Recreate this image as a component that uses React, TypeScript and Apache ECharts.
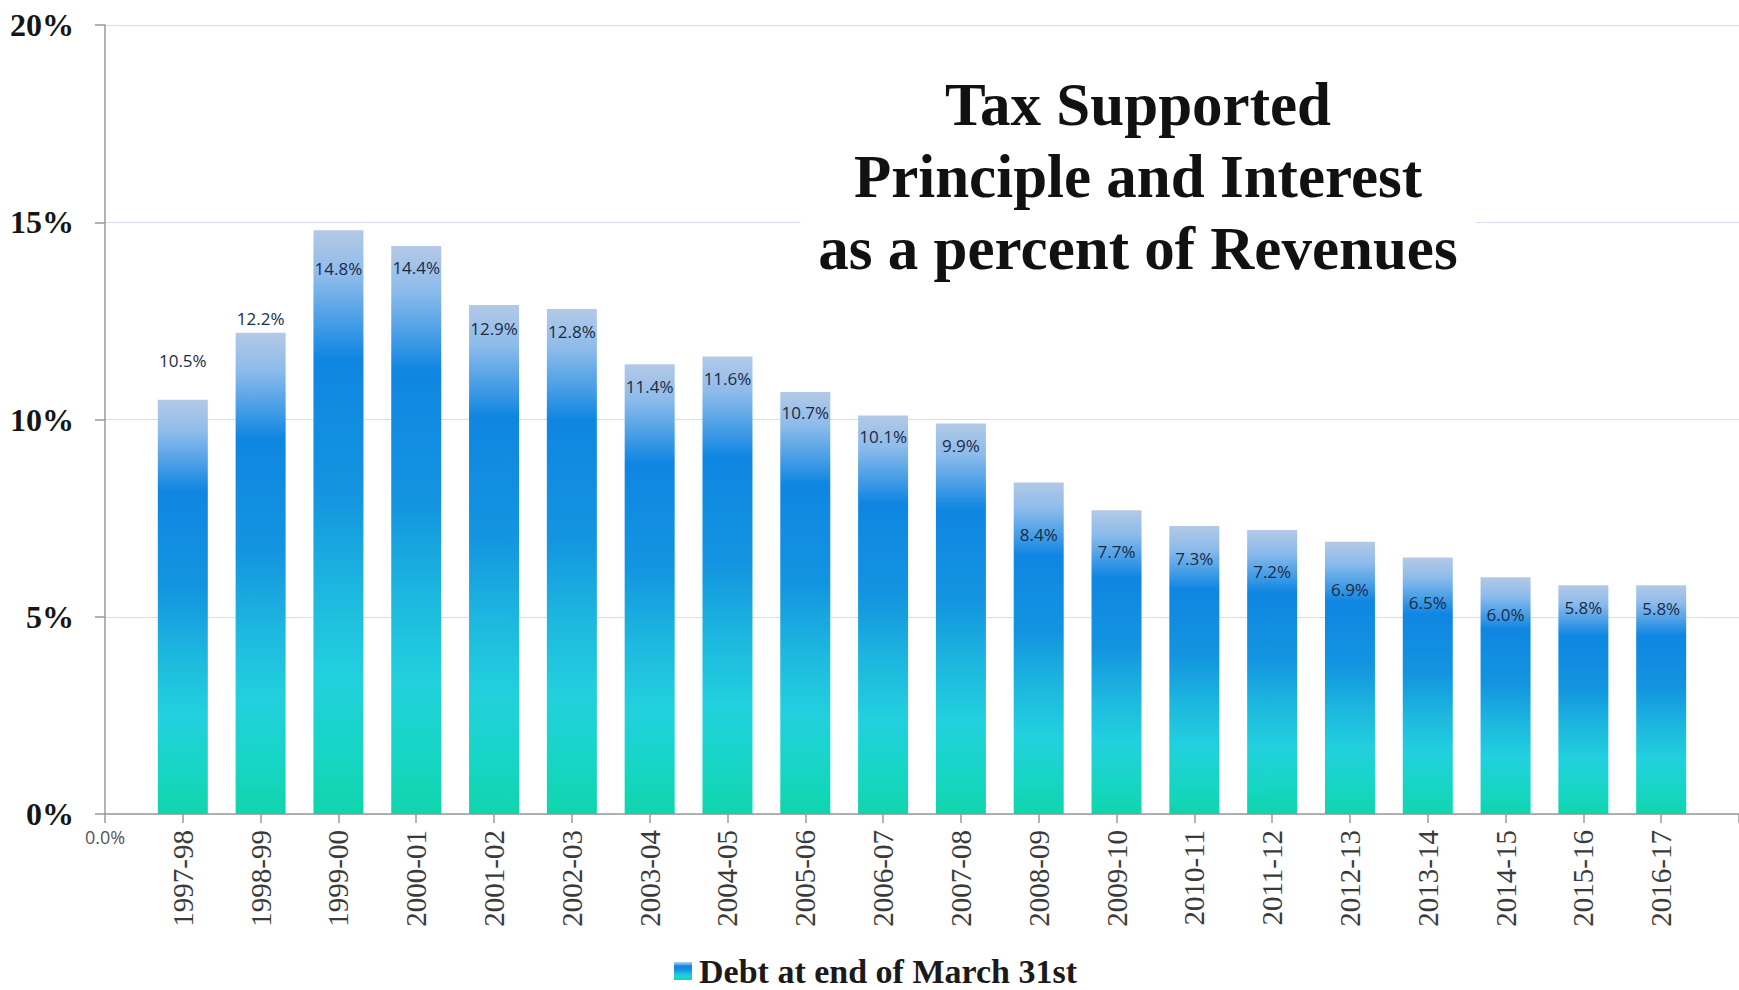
import React, { useEffect, useRef } from "react";
import * as echarts from "echarts";

// Fiscal years (blank slots at both ends mimic the original axis layout)
const categories: string[] = [
  "",
  "1997-98", "1998-99", "1999-00", "2000-01", "2001-02",
  "2002-03", "2003-04", "2004-05", "2005-06", "2006-07",
  "2007-08", "2008-09", "2009-10", "2010-11", "2011-12",
  "2012-13", "2013-14", "2014-15", "2015-16", "2016-17",
  "",
];

// Principal and interest as a percent of revenues
const values: (number | null)[] = [
  0,
  10.5, 12.2, 14.8, 14.4, 12.9,
  12.8, 11.4, 11.6, 10.7, 10.1,
  9.9, 8.4, 7.7, 7.3, 7.2,
  6.9, 6.5, 6.0, 5.8, 5.8,
  null,
];

// label nudges (px below each bar's top where the label centre sits)
const labelDrop: number[] = [
  0,
  -39, -14, 38, 22, 23,
  22, 22, 22, 21, 21,
  22, 52, 41, 32, 42,
  48, 45, 37, 22, 23,
  0,
];

const yMin = 0;
const yMax = 20;
const yStep = 5;

const titleLines: string[] = [
  "Tax Supported",
  "Principle and Interest",
  "as a percent of Revenues",
];
const seriesName = "Debt at end of March 31st";

const SERIF = "'Liberation Serif', 'Times New Roman', serif";
const SANS = "'Open Sans', 'Liberation Sans', sans-serif";

export default function App() {
  const ref = useRef<HTMLDivElement>(null);

  useEffect(() => {
    if (!ref.current) return;
    const chart = echarts.init(ref.current, undefined, { renderer: "svg" });

    const barGradient = new echarts.graphic.LinearGradient(0, 0, 0, 1, [
      { offset: 0, color: "#b3c9e6" },
      { offset: 0.08, color: "#8cbbeb" },
      { offset: 0.22, color: "#0f86e2" },
      { offset: 0.45, color: "#1394e0" },
      { offset: 0.62, color: "#1db8df" },
      { offset: 0.76, color: "#22d0de" },
      { offset: 0.9, color: "#16d6c4" },
      { offset: 1, color: "#0fd5ab" },
    ]);

    const data = values.map((v, i) => {
      if (v === null) return null;
      if (i === 0) {
        return {
          value: v,
          label: {
            show: true,
            position: "bottom",
            distance: 14,
            offset: [0, 0],
            formatter: () => v.toFixed(1) + "%",
            fontSize: 18,
            lineHeight: 18,
            color: "#555",
          },
        };
      }
      return {
        value: v,
        label: { offset: [0, labelDrop[i] - 9] },
      };
    });

    chart.setOption({
      animation: false,
      backgroundColor: "#ffffff",
      title: {
        text: titleLines.join("\n"),
        left: 1120,
        top: 62,
        textAlign: "center",
        backgroundColor: "#ffffff",
        padding: [6, 18, 6, 18],
        z: 10,
        textStyle: {
          fontFamily: SERIF,
          fontSize: 61,
          fontWeight: "bold",
          lineHeight: 72,
          color: "#111111",
          align: "center",
        },
      },
      legend: {
        left: 674,
        top: 954,
        padding: 0,
        itemWidth: 18,
        itemHeight: 18,
        itemGap: 10,
        icon: "rect",
        data: [seriesName],
        textStyle: {
          fontFamily: SERIF,
          fontSize: 34,
          lineHeight: 34,
          fontWeight: "bold",
          color: "#1a1a1a",
          padding: [0, 0, 0, 2],
        },
      },
      grid: { left: 105, right: -8, top: 25, bottom: 176, containLabel: false },
      xAxis: {
        type: "category",
        data: categories,
        boundaryGap: false,
        axisLine: { show: true, lineStyle: { color: "#9a9a9a", width: 1.5 } },
        axisTick: {
          show: true,
          length: 9,
          interval: 0,
          lineStyle: { color: "#9a9a9a", width: 1.5 },
        },
        axisLabel: {
          interval: 0,
          rotate: 90,
          margin: 16,
          fontFamily: SERIF,
          fontSize: 29,
          color: "#3a3a3a",
        },
        splitLine: { show: false },
      },
      yAxis: {
        type: "value",
        min: yMin,
        max: yMax,
        interval: yStep,
        axisLine: { show: true, lineStyle: { color: "#9a9a9a", width: 1.5 } },
        axisTick: {
          show: true,
          length: 10,
          lineStyle: { color: "#9a9a9a", width: 1.5 },
        },
        axisLabel: {
          margin: 31,
          fontFamily: SERIF,
          fontSize: 32,
          fontWeight: "bold",
          color: "#151515",
          formatter: (val: number) => val + "%",
        },
        splitLine: { show: true, lineStyle: { color: "#d9dcec", width: 1.2 } },
      },
      series: [
        {
          name: seriesName,
          type: "bar",
          data,
          barWidth: 50,
          itemStyle: { color: barGradient },
          label: {
            show: true,
            position: "insideTop",
            distance: 0,
            lineHeight: 18,
            fontFamily: SANS,
            fontSize: 17,
            color: "#1c2b45",
            formatter: (p: any) => Number(p.value).toFixed(1) + "%",
          },
        },
      ],
    });

    return () => chart.dispose();
  }, []);

  return (
    <div
      ref={ref}
      style={{ position: "fixed", left: 0, top: 0, width: 1739, height: 990 }}
    />
  );
}
